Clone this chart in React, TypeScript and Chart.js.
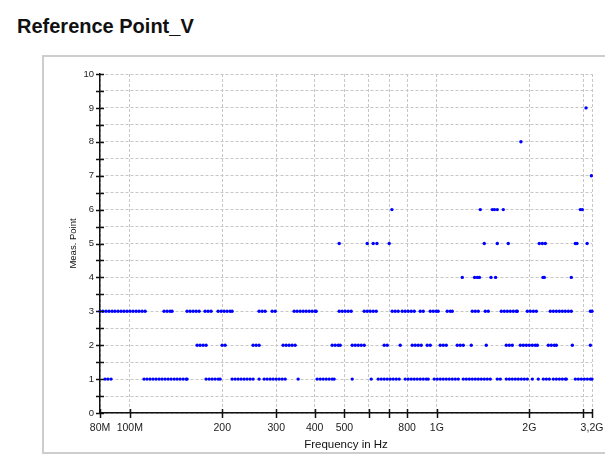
import React, { useEffect, useRef } from 'react';
import { Chart, registerables } from 'chart.js';

Chart.register(...registerables);

// Frequencies in MHz at which each measurement point was active
const measPoint1 = [
  83.1, 84.9, 86.9,
  111.3, 113.8, 116.4, 119.1, 121.8, 124.6, 127.4, 130.3, 133.3, 136.3, 139.5, 142.6, 145.8, 149.2, 152.6, 153.7,
  177.2, 181.3, 185.4, 189.6, 194.0, 196.9,
  215.4, 220.3, 225.3, 230.4, 235.7, 241.0, 246.5, 252.1,
  263.7,
  273.9, 280.1, 286.5, 293.0, 299.7, 306.5, 313.5, 320.6,
  353.5,
  407.5, 416.9, 426.4, 436.1, 446.0, 456.2, 462.9,
  530.0,
  611.2,
  644.1, 658.8, 673.8, 689.2, 704.8,
  720.8, 737.3, 754.0,
  788.7, 806.6, 825.2, 844.0, 863.2, 882.7, 902.8, 923.4, 937.3,
  980.5, 1002.8, 1025.6, 1049, 1072.9, 1097.3, 1122.3, 1147.9, 1174.1,
  1219, 1246.7, 1275.1, 1304, 1333.7, 1364.1, 1395.1, 1426.9, 1459.4, 1492.6,
  1573, 1608.8,
  1682.8, 1721.1, 1760,
  1800.2, 1841.3, 1883.6, 1926.5, 1970.4,
  2045.6,
  2139.5,
  2221.5, 2272.1, 2323.6,
  2394.4, 2449, 2505, 2562, 2620, 2640,
  2824, 2888, 2954, 3021,
  3090, 3161, 3200,
];

const measPoint2 = [
  165.7, 169.4, 173.3, 177.2,
  199.9, 204.4,
  252.1, 257.9, 263.7,
  315.8, 323.0, 330.3, 337.8, 345.5,
  456.2, 466.6, 477.2, 484.4,
  530.0, 542.1, 554.4, 567.0, 580.0,
  673.8, 689.2,
  759.7,
  831.4, 850.3, 869.6, 889.3,
  930.3, 951.5,
  1025.6, 1049, 1072.9,
  1165.2, 1191.8, 1219,
  1294.2,
  1448.4,
  1682.8, 1721.1, 1760,
  1869.6, 1912.2, 1955.9, 2000, 2045.6, 2092.4, 2124,
  2306.3, 2358.6, 2412.6, 2449,
  2761,
  3161,
];

const measPoint3 = [
  80, 81.8, 83.7, 85.6, 87.6, 89.5, 91.6, 93.7, 95.8, 98.0, 100.2, 102.5, 104.9, 107.2, 109.7, 112.2,
  129.3, 132.3, 135.3, 137.3,
  153.7, 157.2, 160.8, 164.5, 168.2,
  175.9, 179.9, 184.0,
  193.9, 198.4, 202.9, 207.5, 212.2, 215.4,
  263.7, 269.8, 275.9,
  290.8, 297.5,
  343.0, 350.7, 358.8, 367.0, 375.4, 383.9, 392.6, 401.5, 404.5,
  480.8, 491.7, 502.9, 514.4, 526.0,
  580.0, 593.2, 606.6, 620.4, 634.6,
  715.4, 731.7, 748.4,
  771.2, 788.7, 806.6, 825.2, 844.0,
  882.7, 902.8,
  951.5, 973.2, 995.3, 1010,
  1080.9, 1105.6, 1122.3,
  1304, 1333.7, 1364.1, 1437.6, 1470.4,
  1620.9, 1657.9, 1695.7, 1734, 1773.6, 1814.0, 1827.6,
  1970.4, 2015, 2061, 2107.7,
  2341, 2394.4, 2449, 2505, 2562, 2620, 2680, 2740,
  3161, 3200,
];

const measPoint4 = [1209.8, 1327, 1353.8, 1376, 1500.5, 1553, 2216.6, 2238, 2740];
const measPoint5 = [480.8, 593.2, 620.4, 638, 699.5, 1426.9, 1573, 1708, 2155.6, 2205, 2255, 2824, 2859, 3085];
const measPoint6 = [713.8, 1384.7, 1515, 1540, 1573, 1645.5, 2932, 2976];
const measPoint7 = [3185];
const measPoint8 = [1878];
const measPoint9 = [3060];

const measPointSeries = [
  measPoint1, measPoint2, measPoint3, measPoint4, measPoint5,
  measPoint6, measPoint7, measPoint8, measPoint9,
];

// X axis ticks (MHz) and their labels
const xTickValues = [80, 100, 200, 300, 400, 500, 600, 700, 800, 1000, 2000, 3000, 3200];
const xTickLabels = ['80M', '100M', '200', '300', '400', '500', '', '', '800', '1G', '2G', '', '3,2G'];

const FONT = '"Liberation Sans", Arial, Helvetica, sans-serif';

const crossTicks = {
  id: 'crossTicks',
  afterDraw(chart: any) {
    const { ctx, chartArea, scales } = chart;
    const x = scales.x;
    const y = scales.y;
    ctx.save();
    ctx.strokeStyle = '#111';
    ctx.lineWidth = 1.5;
    ctx.beginPath();
    x.ticks.forEach((t: any) => {
      const px = Math.round(x.getPixelForValue(t.value)) + 0.5;
      ctx.moveTo(px, chartArea.bottom - 4);
      ctx.lineTo(px, chartArea.bottom + 5);
    });
    y.ticks.forEach((t: any) => {
      const py = Math.round(y.getPixelForValue(t.value)) + 0.5;
      ctx.moveTo(chartArea.left - 4, py);
      ctx.lineTo(chartArea.left + 4, py);
    });
    ctx.stroke();
    ctx.restore();
  },
};

export default function App() {
  const ref = useRef<HTMLCanvasElement>(null);

  useEffect(() => {
    const datasets = measPointSeries.map((freqs, i) => ({
      label: `Meas. Point ${i + 1}`,
      data: freqs.map((f) => ({ x: f, y: i + 1 })),
      backgroundColor: '#0000ff',
      borderColor: '#0000ff',
      borderWidth: 0,
      pointRadius: 1.7,
      pointStyle: 'circle',
      clip: false as any,
    }));

    const chart = new Chart(ref.current!, {
      type: 'scatter',
      data: { datasets },
      options: {
        responsive: false,
        animation: false,
        devicePixelRatio: 1,
        layout: { padding: { left: 62, top: 74, right: 13, bottom: 0 } },
        plugins: {
          legend: { display: false },
          tooltip: { enabled: false },
          title: { display: false },
        },
        scales: {
          x: {
            type: 'logarithmic',
            min: 80,
            max: 3200,
            afterBuildTicks: (s: any) => {
              s.ticks = xTickValues.map((v) => ({ value: v }));
            },
            afterFit: (s: any) => {
              s.height = 49;
              s.paddingLeft = 0;
              s.paddingRight = 0;
            },
            grid: { color: '#c6c6c6', lineWidth: 1, drawTicks: false },
            border: { display: true, color: '#111', width: 1.5, dash: [3, 2] },
            ticks: {
              autoSkip: false,
              maxRotation: 0,
              minRotation: 0,
              padding: 9,
              color: '#222',
              font: { family: FONT, size: 10.5 },
              callback: (v: any) => {
                const i = xTickValues.indexOf(Number(v));
                return i >= 0 ? xTickLabels[i] : '';
              },
            },
            title: {
              display: true,
              text: 'Frequency in Hz',
              color: '#111',
              font: { family: FONT, size: 11.5 },
              padding: { top: 0, bottom: 10 },
            },
          },
          y: {
            min: 0,
            max: 10,
            afterFit: (s: any) => {
              s.width = 38;
              s.paddingTop = 0;
              s.paddingBottom = 0;
            },
            grid: { color: '#c6c6c6', lineWidth: 1, drawTicks: false },
            border: { display: true, color: '#111', width: 1.5, dash: [3, 2] },
            ticks: {
              stepSize: 0.5,
              autoSkip: false,
              padding: 6,
              color: '#222',
              font: { family: FONT, size: 9.5 },
              callback: (v: any) => (Number.isInteger(Number(v)) ? String(v) : ''),
            },
            title: {
              display: true,
              text: 'Meas. Point',
              color: '#111',
              font: { family: FONT, size: 9.5 },
              padding: { top: 5.5, bottom: 0 },
            },
          },
        },
      } as any,
      plugins: [crossTicks],
    });
    return () => chart.destroy();
  }, []);

  return (
    <div
      style={{
        position: 'fixed',
        left: 0,
        top: 0,
        width: 605,
        height: 462,
        overflow: 'hidden',
        background: '#fff',
      }}
    >
      <div
        style={{
          position: 'absolute',
          left: 17,
          top: 15,
          font: `bold 20px ${FONT}`,
          color: '#111',
          whiteSpace: 'nowrap',
        }}
      >
        Reference Point_V
      </div>
      <div
        style={{
          position: 'absolute',
          left: 42,
          top: 55,
          width: 640,
          height: 399,
          boxSizing: 'border-box',
          border: '2px solid #cdcdcd',
        }}
      />
      <canvas
        ref={ref}
        width={605}
        height={462}
        style={{ position: 'absolute', left: 0, top: 0, width: 605, height: 462 }}
      />
    </div>
  );
}
